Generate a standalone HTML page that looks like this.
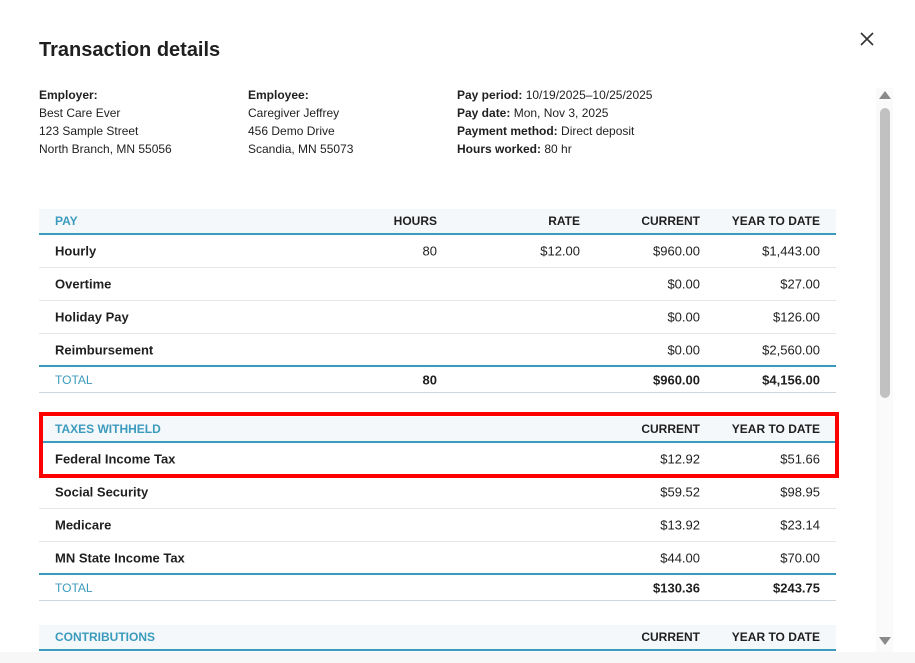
<!DOCTYPE html>
<html><head><meta charset="utf-8"><style>
*{margin:0;padding:0;box-sizing:border-box}
body{width:915px;height:663px;background:#fff;font-family:"Liberation Sans",sans-serif;color:#1f1f1f;position:relative;overflow:hidden}
.a{position:absolute;white-space:nowrap}
.t{font-size:12px;line-height:18px}
.b{font-weight:bold}
.hdr{position:absolute;left:39px;width:797px;height:24px;background:#f5f8fb;border-bottom:2px solid #3b9bbd}
.h{position:absolute;font-size:12px;font-weight:bold;top:50%;transform:translateY(-50%)}
.row{position:absolute;left:39px;width:797px;height:33px;border-bottom:1px solid #e3e6ea}
.c{position:absolute;top:50%;transform:translateY(-50%);font-size:13px}
.blue{color:#3b9bbd}
</style></head><body>
<div class="a b" style="left:39px;top:39px;font-size:20px">Transaction details</div>
<svg class="a" style="left:860px;top:32px" width="14" height="14"><path d="M1 1L13 13M13 1L1 13" stroke="#333" stroke-width="1.6"/></svg>

<div class="a t" style="left:39px;top:86px"><b>Employer:</b><br>Best Care Ever<br>123 Sample Street<br>North Branch, MN 55056</div>
<div class="a t" style="left:248px;top:86px"><b>Employee:</b><br>Caregiver Jeffrey<br>456 Demo Drive<br>Scandia, MN 55073</div>
<div class="a t" style="left:457px;top:86px"><b>Pay period:</b> 10/19/2025–10/25/2025<br><b>Pay date:</b> Mon, Nov 3, 2025<br><b>Payment method:</b> Direct deposit<br><b>Hours worked:</b> 80 hr</div>

<div class="hdr" style="top:209px;height:26px">
<span class="h blue" style="left:16px">PAY</span>
<span class="h" style="right:399px">HOURS</span>
<span class="h" style="right:256px">RATE</span>
<span class="h" style="right:136px">CURRENT</span>
<span class="h" style="right:16px">YEAR TO DATE</span></div>
<div class="row" style="top:235px"><span class="c b" style="left:16px">Hourly</span><span class="c" style="right:399px">80</span><span class="c" style="right:256px">$12.00</span><span class="c" style="right:136px">$960.00</span><span class="c" style="right:16px">$1,443.00</span></div>
<div class="row" style="top:268px"><span class="c b" style="left:16px">Overtime</span><span class="c" style="right:136px">$0.00</span><span class="c" style="right:16px">$27.00</span></div>
<div class="row" style="top:301px"><span class="c b" style="left:16px">Holiday Pay</span><span class="c" style="right:136px">$0.00</span><span class="c" style="right:16px">$126.00</span></div>
<div class="row" style="top:334px;border-bottom:2px solid #3b9bbd"><span class="c b" style="left:16px">Reimbursement</span><span class="c" style="right:136px">$0.00</span><span class="c" style="right:16px">$2,560.00</span></div>
<div class="row" style="top:368px;height:25px;border-bottom:1px solid #cfd6de"><span class="c blue" style="left:16px;font-size:12px">TOTAL</span><span class="c b" style="right:399px">80</span><span class="c b" style="right:136px">$960.00</span><span class="c b" style="right:16px">$4,156.00</span></div>

<div class="hdr" style="top:417px;height:26px">
<span class="h blue" style="left:16px">TAXES WITHHELD</span>
<span class="h" style="right:136px">CURRENT</span>
<span class="h" style="right:16px">YEAR TO DATE</span></div>
<div class="row" style="top:443px"><span class="c b" style="left:16px">Federal Income Tax</span><span class="c" style="right:136px">$12.92</span><span class="c" style="right:16px">$51.66</span></div>
<div class="row" style="top:476px"><span class="c b" style="left:16px">Social Security</span><span class="c" style="right:136px">$59.52</span><span class="c" style="right:16px">$98.95</span></div>
<div class="row" style="top:509px"><span class="c b" style="left:16px">Medicare</span><span class="c" style="right:136px">$13.92</span><span class="c" style="right:16px">$23.14</span></div>
<div class="row" style="top:542px;border-bottom:2px solid #3b9bbd"><span class="c b" style="left:16px">MN State Income Tax</span><span class="c" style="right:136px">$44.00</span><span class="c" style="right:16px">$70.00</span></div>
<div class="row" style="top:576px;height:25px;border-bottom:1px solid #cfd6de"><span class="c blue" style="left:16px;font-size:12px">TOTAL</span><span class="c b" style="right:136px">$130.36</span><span class="c b" style="right:16px">$243.75</span></div>
<div class="a" style="left:39px;top:412px;width:800px;height:66px;border:4px solid #f00"></div>

<div class="hdr" style="top:625px;height:26px">
<span class="h blue" style="left:16px">CONTRIBUTIONS</span>
<span class="h" style="right:136px">CURRENT</span>
<span class="h" style="right:16px">YEAR TO DATE</span></div>
<div class="a" style="left:0;top:652px;width:915px;height:11px;background:#f7f7f7"></div>

<div class="a" style="left:876px;top:88px;width:17px;height:564px;background:#fafafa"></div>
<div class="a" style="left:879px;top:91px;width:0;height:0;border-left:6px solid transparent;border-right:6px solid transparent;border-bottom:8px solid #8a8a8a"></div>
<div class="a" style="left:880px;top:108px;width:10px;height:290px;background:#c1c1c1;border-radius:5px"></div>
<div class="a" style="left:879px;top:637px;width:0;height:0;border-left:6px solid transparent;border-right:6px solid transparent;border-top:8px solid #8a8a8a"></div>
</body></html>
